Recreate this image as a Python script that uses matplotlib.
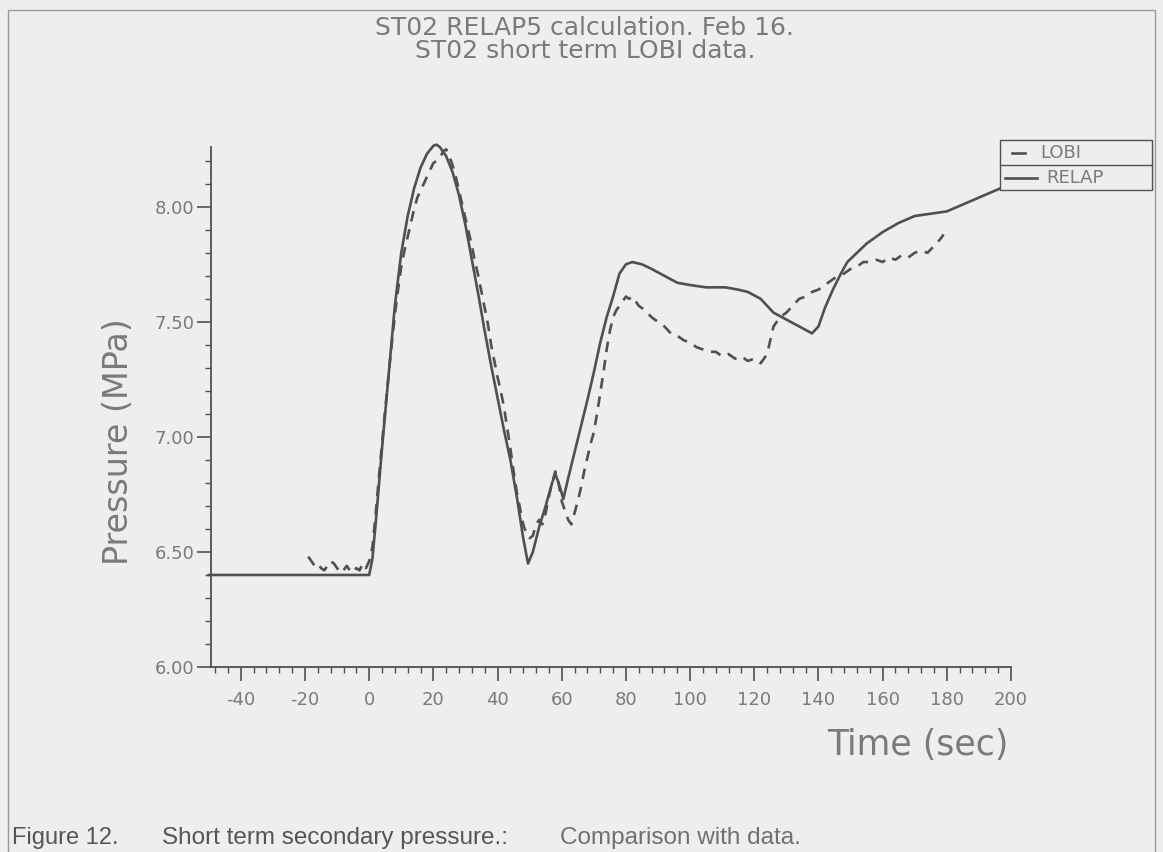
import matplotlib.pyplot as plt
from matplotlib.lines import Line2D
from matplotlib.patches import Rectangle

# RELAP5 calculation (solid)
relap_t = [-50, 0, 1, 2, 4, 6, 8, 10, 12, 14, 16, 18, 20, 21, 22, 24, 26, 28,
           30, 32, 34, 36, 38, 40, 42, 44, 46, 48, 49.5, 51, 53, 55, 57, 58,
           59.5, 60.5, 62, 65, 68, 70, 72, 74, 76, 78, 80, 82, 85, 88, 92, 96,
           100, 105, 111, 115, 118, 122, 126, 130, 134, 138, 140, 142, 144.5,
           147, 149, 152, 155, 160, 165, 170, 175, 180, 185, 190, 195, 200]
relap_p = [6.40, 6.40, 6.47, 6.62, 6.95, 7.26, 7.57, 7.80, 7.96, 8.08, 8.17,
           8.23, 8.265, 8.27, 8.26, 8.22, 8.15, 8.05, 7.92, 7.77, 7.62, 7.46,
           7.31, 7.17, 7.03, 6.90, 6.74, 6.56, 6.45, 6.50, 6.61, 6.70, 6.80,
           6.84, 6.78, 6.73, 6.82, 6.99, 7.16, 7.28, 7.41, 7.52, 7.61, 7.71,
           7.75, 7.76, 7.75, 7.73, 7.70, 7.67, 7.66, 7.65, 7.65, 7.64, 7.63,
           7.60, 7.54, 7.51, 7.48, 7.45, 7.48, 7.56, 7.64, 7.71, 7.76, 7.80,
           7.84, 7.89, 7.93, 7.96, 7.97, 7.98, 8.01, 8.04, 8.07, 8.10]

# LOBI experimental data (dashed)
lobi_t = [-19, -18, -17, -16, -15, -14, -13, -12, -11, -10, -9, -8, -7, -6,
          -5, -4, -3, -2, -1, 0, 1, 2, 3, 4, 5, 6, 7, 8, 9, 10, 11, 12, 13,
          14, 15, 16, 17, 18, 19, 20, 21, 22, 23, 24, 25, 26, 27, 28, 29, 30,
          31, 32, 33, 34, 35, 36, 37, 38, 39, 40, 41, 42, 43, 44, 45, 46, 47,
          48, 49, 50, 51, 52, 53, 54, 55, 56, 57, 58, 59, 60, 61, 62, 63, 64,
          65, 66, 67, 68, 69, 70, 71, 72, 73, 74, 75, 76, 77, 78, 79, 80, 81,
          82, 83, 84, 86, 88, 90, 92, 94, 96, 98, 100, 102, 104, 106, 108,
          110, 112, 114, 116, 118, 120, 122, 124, 125, 126, 128, 130, 132,
          134, 136, 138, 140, 142, 144, 146, 148, 150, 152, 154, 156, 158,
          160, 162, 164, 166, 168, 170, 172, 174, 176, 178, 179]
lobi_p = [6.48, 6.46, 6.44, 6.45, 6.43, 6.42, 6.44, 6.46, 6.45, 6.43, 6.41,
          6.42, 6.44, 6.42, 6.41, 6.43, 6.42, 6.45, 6.43, 6.46, 6.52, 6.66,
          6.82, 6.97, 7.12, 7.26, 7.40, 7.53, 7.64, 7.74, 7.81, 7.87, 7.93,
          7.99, 8.04, 8.07, 8.10, 8.13, 8.16, 8.19, 8.20, 8.21, 8.24, 8.25,
          8.22, 8.18, 8.13, 8.07, 8.01, 7.95, 7.89, 7.83, 7.76, 7.70, 7.63,
          7.56, 7.49, 7.40, 7.33, 7.26, 7.20, 7.13, 7.04, 6.95, 6.85, 6.76,
          6.69, 6.62, 6.58, 6.56, 6.57, 6.62, 6.64, 6.62, 6.67, 6.74, 6.80,
          6.85, 6.80, 6.72, 6.68, 6.64, 6.62, 6.67, 6.72, 6.78, 6.85, 6.91,
          6.97, 7.02, 7.10, 7.19, 7.28, 7.38, 7.46, 7.52, 7.55, 7.57, 7.59,
          7.61, 7.60, 7.61, 7.59, 7.57, 7.55, 7.52, 7.50, 7.48, 7.45, 7.44,
          7.42, 7.41, 7.39, 7.38, 7.37, 7.37, 7.35, 7.36, 7.34, 7.35, 7.33,
          7.34, 7.32, 7.36, 7.42, 7.48, 7.52, 7.54, 7.57, 7.60, 7.61, 7.63,
          7.64, 7.66, 7.68, 7.70, 7.71, 7.73, 7.74, 7.76, 7.76, 7.77, 7.76,
          7.78, 7.77, 7.79, 7.78, 7.80, 7.81, 7.80, 7.83, 7.86, 7.88]

x_ticks = [-40, -20, 0, 20, 40, 60, 80, 100, 120, 140, 160, 180, 200]
y_ticks = [6.0, 6.5, 7.0, 7.5, 8.0]

bg = '#efeeec'
ink = '#505050'
txt = '#7a7a7a'
W, H = 1163, 852

fig = plt.figure(figsize=(11.63, 8.52), dpi=100, facecolor=bg)
ax = fig.add_axes([0.1814, 0.2171, 0.6879, 0.6104], facecolor=bg)

ax.plot(lobi_t, lobi_p, color=ink, lw=1.9, dashes=(4, 3), label='LOBI')
ax.plot(relap_t, relap_p, color=ink, lw=1.9, label='RELAP', clip_on=False)

ax.set_xlim(-49.3, 200)
ax.set_ylim(6.0, 8.26)
ax.set_xticks(x_ticks)
ax.set_xticklabels([str(v) for v in x_ticks])
ax.set_xticks(range(-48, 201, 4), minor=True)
ax.set_yticks(y_ticks)
ax.set_yticklabels(['%.2f' % v for v in y_ticks])
ax.set_yticks([6.1, 6.2, 6.3, 6.4, 6.6, 6.7, 6.8, 6.9, 7.1, 7.2, 7.3, 7.4,
               7.6, 7.7, 7.8, 7.9, 8.1, 8.2], minor=True)

for s in ['top', 'right']:
    ax.spines[s].set_visible(False)
for s in ['left', 'bottom']:
    ax.spines[s].set_color(ink)
    ax.spines[s].set_linewidth(1.3)

ax.tick_params(axis='x', which='major', length=10, width=1.2, color=ink,
               labelsize=13, labelcolor=txt, pad=7)
ax.tick_params(axis='y', which='major', length=10, width=1.2, color=ink,
               labelsize=13, labelcolor=txt, pad=2)
ax.tick_params(which='minor', length=4, width=1.0, color=ink)

fig.text(0.102, 0.4815, 'Pressure (MPa)', rotation=90, fontsize=24,
         color=txt, ha='center', va='center')
fig.text(0.867, 0.125, 'Time (sec)', fontsize=25, color=txt,
         ha='right', va='center')

fig.text(0.503, 0.967, 'ST02 RELAP5 calculation. Feb 16.', fontsize=18,
         color=txt, ha='center', va='center')
fig.text(0.503, 0.940, 'ST02 short term LOBI data.', fontsize=18,
         color=txt, ha='center', va='center')

# legend box, two boxed rows
def fx(px):
    return px / W

def fy(py):
    return 1 - py / H

fig.add_artist(Rectangle((fx(1000), fy(190)), fx(152), 50 / H,
                         transform=fig.transFigure, facecolor=bg,
                         edgecolor=ink, lw=1.0, zorder=5))
fig.add_artist(Line2D([fx(1000), fx(1152)], [fy(165)] * 2,
                      transform=fig.transFigure, color=ink, lw=1.0, zorder=6))
fig.add_artist(Line2D([fx(1012), fx(1025)], [fy(153)] * 2,
                      transform=fig.transFigure, color=ink, lw=1.9, zorder=6))
fig.add_artist(Line2D([fx(1005), fx(1037)], [fy(178)] * 2,
                      transform=fig.transFigure, color=ink, lw=1.9, zorder=6))
fig.text(fx(1040), fy(153), 'LOBI', fontsize=13, color=txt, va='center',
         zorder=7)
fig.text(fx(1046), fy(178), 'RELAP', fontsize=13, color=txt, va='center',
         zorder=7)

# outer frame
fig.add_artist(Rectangle((0.007, -0.01), 0.986, 0.998, transform=fig.transFigure,
                         fill=False, edgecolor='#9a9a9a', lw=1.0))

fig.text(fx(12), fy(838), 'Figure 12.', fontsize=17, color='#555555',
         family='Liberation Sans', va='center')
fig.text(fx(162), fy(838), 'Short term secondary pressure.:', fontsize=17.5,
         color='#555555', family='Liberation Sans', va='center')
fig.text(fx(560), fy(838), 'Comparison with data.', fontsize=17.5,
         color='#707070', family='Liberation Sans', va='center')

fig.savefig('out.png', dpi=100, facecolor=bg)
